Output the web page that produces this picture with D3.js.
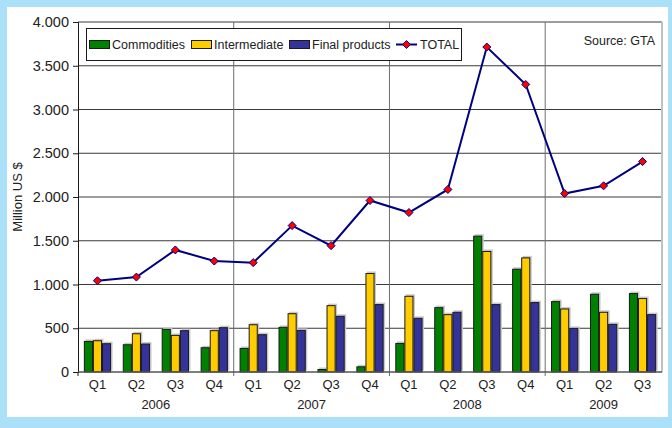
<!DOCTYPE html>
<html>
<head>
<meta charset="utf-8">
<script src="https://cdn.jsdelivr.net/npm/d3@7"></script>
<style>
  html, body { margin: 0; padding: 0; background: #aae0f8; }
  svg text { font-family: "Liberation Sans", Arial, sans-serif; fill: #222; }
</style>
</head>
<body>
<div id="chart"></div>
<script>
// quarters shown on the x axis, and the year each one belongs to
const quarters = ["Q1","Q2","Q3","Q4","Q1","Q2","Q3","Q4","Q1","Q2","Q3","Q4","Q1","Q2","Q3"];
const quarterYear = [2006,2006,2006,2006,2007,2007,2007,2007,2008,2008,2008,2008,2009,2009,2009];
const years = [2006, 2007, 2008, 2009];

// values in million US $
const commodities  = [355, 317, 493, 283, 275, 516, 34, 65, 332, 741, 1558, 1180, 810, 894, 902];
const intermediate = [363, 443, 424, 478, 546, 672, 764, 1131, 871, 661, 1383, 1310, 726, 688, 845];
const finalProducts = [329, 325, 478, 512, 432, 481, 642, 776, 619, 688, 776, 799, 504, 550, 661];
const total = [1043, 1085, 1395, 1268, 1250, 1673, 1444, 1960, 1822, 2086, 3714, 3286, 2040, 2128, 2405];

const yTicks = [0, 500, 1000, 1500, 2000, 2500, 3000, 3500, 4000];

const seriesNames = ["Commodities", "Intermediate", "Final products"];
const seriesColors = ["#008000", "#ffcc00", "#333399"];
const seriesData = [commodities, intermediate, finalProducts];

const W = 672, H = 428;
const margin = {top: 22, right: 10, bottom: 56, left: 78};
const plotRight = 662, plotBottom = 372;

const svg = d3.select("#chart").append("svg")
    .attr("width", W)
    .attr("height", H);

// light blue frame with white panel
svg.append("rect").attr("width", W).attr("height", H).attr("fill", "#aae0f8");
svg.append("rect")
    .attr("x", 7).attr("y", 7)
    .attr("width", 661).attr("height", 410)
    .attr("fill", "#ffffff");

const idx = quarters.map((d, i) => i);

const x = d3.scaleBand()
    .domain(idx)
    .range([margin.left, plotRight])
    .paddingInner(0.3)
    .paddingOuter(0.15);

const xSub = d3.scaleBand()
    .domain([0, 1, 2])
    .range([0, x.bandwidth()]);

const y = d3.scaleLinear()
    .domain([0, 4000])
    .range([plotBottom, margin.top]);

const locale = d3.formatLocale({decimal: ",", thousands: ".", grouping: [3], currency: ["", ""]});
const fmt = locale.format(",");

// horizontal gridlines
svg.selectAll(".hgrid")
    .data(yTicks.filter(d => d > 0))
    .enter()
    .append("line")
    .attr("class", "hgrid")
    .attr("x1", margin.left)
    .attr("x2", plotRight)
    .attr("y1", d => y(d))
    .attr("y2", d => y(d))
    .attr("stroke", "#3a3a3a")
    .attr("stroke-width", 1);

// vertical separators between years
const step = x.step();
const boundaries = [4, 8, 12];
svg.selectAll(".vgrid")
    .data(boundaries)
    .enter()
    .append("line")
    .attr("class", "vgrid")
    .attr("x1", d => margin.left + d * step)
    .attr("x2", d => margin.left + d * step)
    .attr("y1", margin.top)
    .attr("y2", plotBottom + 4)
    .attr("stroke", "#6e6e6e")
    .attr("stroke-width", 1);

// right border of plot area
svg.append("line")
    .attr("x1", plotRight).attr("x2", plotRight)
    .attr("y1", margin.top).attr("y2", plotBottom)
    .attr("stroke", "#c0c0c0")
    .attr("stroke-width", 2);

// bars
const groups = svg.selectAll(".grp")
    .data(idx)
    .enter()
    .append("g")
    .attr("class", "grp")
    .attr("transform", d => `translate(${x(d)},0)`);

seriesData.forEach((vals, s) => {
    // faint shadow
    groups.append("rect")
        .attr("x", xSub(s) + 1.5)
        .attr("y", d => y(vals[d]) - 1.5)
        .attr("width", xSub.bandwidth())
        .attr("height", d => plotBottom - y(vals[d]))
        .attr("fill", "#c8c8c8");
    groups.append("rect")
        .attr("x", xSub(s) + 0.5)
        .attr("y", d => y(vals[d]) + 0.5)
        .attr("width", xSub.bandwidth() - 1)
        .attr("height", d => Math.max(0, plotBottom - y(vals[d]) - 0.5))
        .attr("fill", seriesColors[s])
        .attr("stroke", "#1a1a1a")
        .attr("stroke-width", 1);
});

// axes
const yAxis = d3.axisLeft(y)
    .tickValues(yTicks)
    .tickFormat(d => d === 0 ? "0" : fmt(d))
    .tickSize(5)
    .tickPadding(4);

const gy = svg.append("g")
    .attr("transform", `translate(${margin.left},0)`)
    .call(yAxis);
gy.select(".domain").attr("stroke", "#1a1a1a");
gy.selectAll(".tick line").attr("stroke", "#1a1a1a");
gy.selectAll(".tick text")
    .style("font-size", "14.5px")
    .attr("fill", "#222");

// x axis line
svg.append("line")
    .attr("x1", margin.left).attr("x2", plotRight)
    .attr("y1", plotBottom).attr("y2", plotBottom)
    .attr("stroke", "#555")
    .attr("stroke-width", 1.5);
svg.append("line")
    .attr("x1", margin.left).attr("x2", margin.left)
    .attr("y1", plotBottom).attr("y2", plotBottom + 4)
    .attr("stroke", "#1a1a1a");

// quarter labels
svg.selectAll(".qlab")
    .data(idx)
    .enter()
    .append("text")
    .attr("class", "qlab")
    .attr("x", d => x(d) + x.bandwidth() / 2)
    .attr("y", 389)
    .attr("text-anchor", "middle")
    .style("font-size", "13px")
    .text(d => quarters[d]);

// year labels, centered below their quarters
svg.selectAll(".ylab")
    .data(years)
    .enter()
    .append("text")
    .attr("class", "ylab")
    .attr("x", yr => {
        const ids = idx.filter(i => quarterYear[i] === yr);
        return (x(ids[0]) + x(ids[ids.length - 1]) + x.bandwidth()) / 2;
    })
    .attr("y", 409)
    .attr("text-anchor", "middle")
    .style("font-size", "13px")
    .text(d => d);

// y axis title
svg.append("text")
    .attr("transform", "translate(22,197) rotate(-90)")
    .attr("text-anchor", "middle")
    .style("font-size", "13px")
    .text("Million US $");

// TOTAL line
const line = d3.line()
    .x(d => x(d) + x.bandwidth() / 2)
    .y(d => y(total[d]));

svg.append("path")
    .datum(idx)
    .attr("d", line)
    .attr("fill", "none")
    .attr("stroke", "#000080")
    .attr("stroke-width", 2);

const diamond = "M0,-4L4,0L0,4L-4,0Z";
svg.selectAll(".mark")
    .data(idx)
    .enter()
    .append("path")
    .attr("class", "mark")
    .attr("d", diamond)
    .attr("transform", d => `translate(${x(d) + x.bandwidth() / 2},${y(total[d])})`)
    .attr("fill", "#ff0000")
    .attr("stroke", "#000080")
    .attr("stroke-width", 1);

// legend
const legend = svg.append("g");
legend.append("rect")
    .attr("x", 86.5).attr("y", 28.5)
    .attr("width", 375).attr("height", 32)
    .attr("fill", "#fff")
    .attr("stroke", "#1a1a1a");

const legX = [89, 191, 289];
seriesNames.forEach((name, s) => {
    legend.append("rect")
        .attr("x", legX[s] + 0.5).attr("y", 40.5)
        .attr("width", 20).attr("height", 8)
        .attr("fill", seriesColors[s])
        .attr("stroke", "#1a1a1a");
    legend.append("text")
        .attr("x", legX[s] + 23).attr("y", 49)
        .style("font-size", "12.5px")
        .text(name);
});
legend.append("line")
    .attr("x1", 396).attr("x2", 417)
    .attr("y1", 44.5).attr("y2", 44.5)
    .attr("stroke", "#000080")
    .attr("stroke-width", 2);
legend.append("path")
    .attr("d", diamond)
    .attr("transform", "translate(406.5,44.5)")
    .attr("fill", "#ff0000")
    .attr("stroke", "#000080");
legend.append("text")
    .attr("x", 420).attr("y", 49)
    .style("font-size", "12.5px")
    .text("TOTAL");

// source note
svg.append("text")
    .attr("x", 655).attr("y", 45)
    .attr("text-anchor", "end")
    .style("font-size", "12.5px")
    .text("Source: GTA");
</script>
</body>
</html>
